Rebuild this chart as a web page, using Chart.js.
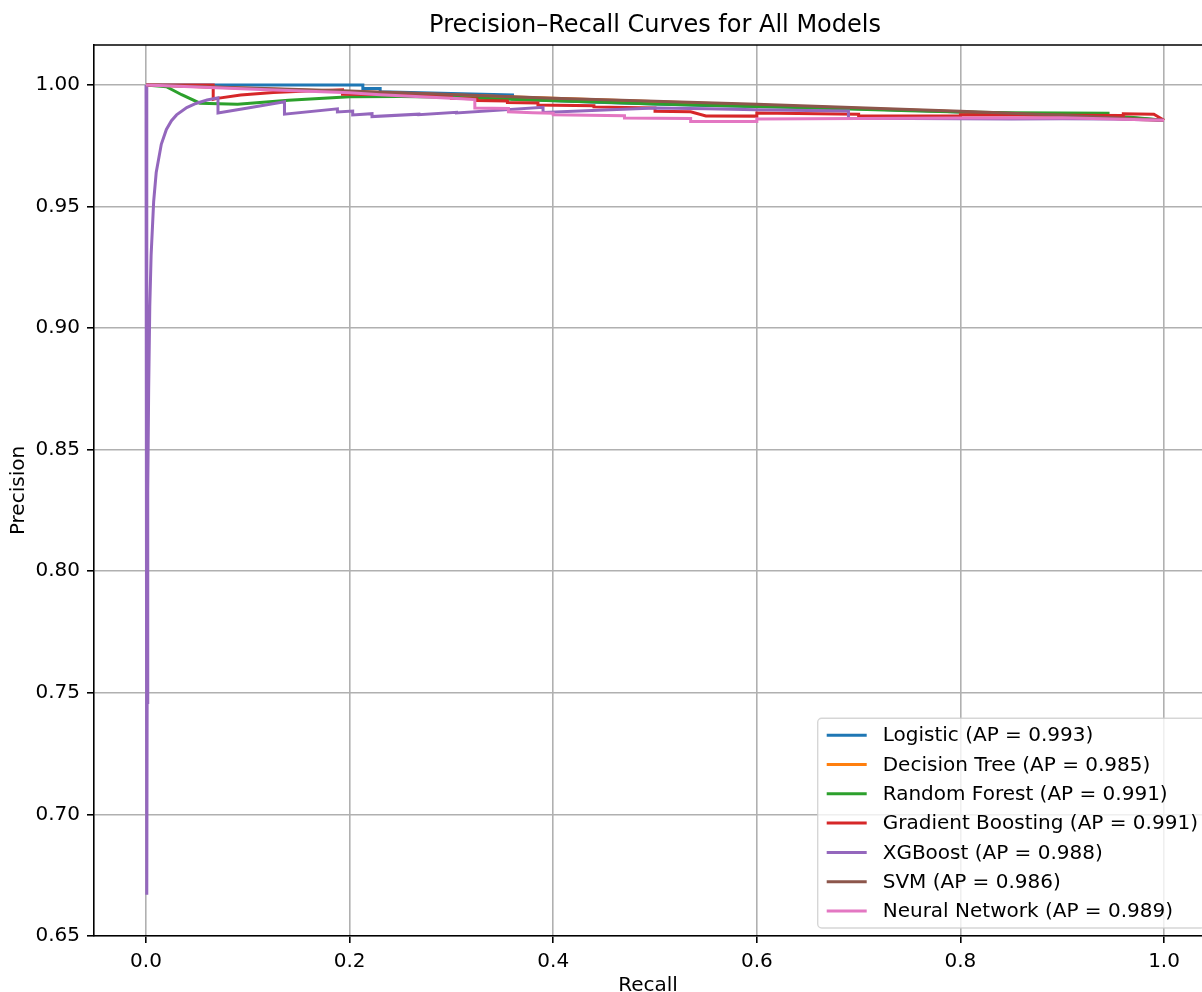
<!DOCTYPE html>
<html>
<head>
<meta charset="utf-8">
<script src="https://cdn.jsdelivr.net/npm/chart.js@4/dist/chart.umd.min.js"></script>
<style>
  html, body { margin: 0; padding: 0; background: #fff; overflow: hidden; }
  #wrap { width: 1202px; height: 992px; }
</style>
</head>
<body>
<div id="wrap"><canvas id="prChart" width="1202" height="992"></canvas></div>
<script>
let chartTitle = "Precision\u2013Recall Curves for All Models";
let xTicks = [0.0, 0.2, 0.4, 0.6, 0.8, 1.0];
let yTicks = [0.65, 0.70, 0.75, 0.80, 0.85, 0.90, 0.95, 1.00];

let modelNames = ["Logistic", "Decision Tree", "Random Forest", "Gradient Boosting", "XGBoost", "SVM", "Neural Network"];
let apScores = [0.993, 0.985, 0.991, 0.991, 0.988, 0.986, 0.989];
let lineColors = ["#1f77b4", "#ff7f0e", "#2ca02c", "#d62728", "#9467bd", "#8c564b", "#e377c2"];

// recall / precision
let recall_lr = [0, 0.213, 0.213, 0.230, 0.230, 0.30, 0.36, 0.36, 0.45, 0.55, 0.63, 0.70, 0.78, 0.80, 0.88, 0.95, 1.0];
let precision_lr = [1, 1, 0.9986, 0.9986, 0.9972, 0.9965, 0.9959, 0.9942, 0.9928, 0.9916, 0.9910, 0.9902, 0.9892, 0.9889, 0.9880, 0.9870, 0.9855];

let recall_dt = [0, 0.4, 0.8, 0.975, 1.0];
let precision_dt = [1, 0.9945, 0.9890, 0.9858, 0.9855];

let recall_rf = [0, 0.02, 0.035, 0.053, 0.09, 0.14, 0.20, 0.25, 0.30, 0.35, 0.40, 0.45, 0.50, 0.55, 0.60, 0.65, 0.70, 0.75, 0.80, 0.85, 0.90, 0.945, 0.945, 0.97, 1.0];
let precision_rf = [1, 0.9993, 0.9960, 0.9925, 0.9921, 0.9937, 0.9952, 0.9953, 0.9950, 0.9942, 0.9935, 0.9929, 0.9922, 0.9917, 0.9912, 0.9906, 0.9900, 0.9894, 0.9889, 0.9886, 0.9885, 0.9884, 0.9872, 0.9866, 0.9855];

let recall_gb = [0, 0.066, 0.066, 0.07, 0.093, 0.125, 0.158, 0.193, 0.193, 0.26, 0.30, 0.30, 0.325, 0.325, 0.355, 0.355, 0.385, 0.385, 0.44, 0.44, 0.50, 0.50, 0.535, 0.55, 0.60, 0.60, 0.70, 0.70, 0.80, 0.80, 0.96, 0.96, 0.99, 1.0];
let precision_gb = [1, 1, 0.9941, 0.9945, 0.9959, 0.9969, 0.9975, 0.9980, 0.9962, 0.9960, 0.9958, 0.9945, 0.9943, 0.9936, 0.9934, 0.9928, 0.9926, 0.9918, 0.9915, 0.9910, 0.9906, 0.9892, 0.9890, 0.9873, 0.9872, 0.9885, 0.9880, 0.9873, 0.9872, 0.9878, 0.9875, 0.9882, 0.9880, 0.9855];

let recall_xgb = [0, 0.00075, 0.0011, 0.0015, 0.0019, 0.0026, 0.0037, 0.005, 0.0075, 0.01, 0.015, 0.02, 0.025, 0.03, 0.04, 0.049, 0.06, 0.0707, 0.0707, 0.10, 0.136, 0.136, 0.188, 0.188, 0.203, 0.203, 0.222, 0.222, 0.268, 0.268, 0.305, 0.305, 0.39, 0.39, 0.45, 0.50, 0.55, 0.60, 0.65, 0.69, 0.69, 0.75, 0.80, 0.85, 0.90, 0.95, 1.0];
let precision_xgb = [1, 0.667, 0.746, 0.800, 0.833, 0.875, 0.909, 0.930, 0.952, 0.964, 0.9756, 0.9817, 0.9853, 0.9877, 0.9907, 0.9924, 0.9938, 0.9947, 0.9885, 0.9905, 0.9931, 0.9880, 0.9902, 0.9889, 0.9893, 0.9877, 0.9882, 0.9870, 0.9880, 0.9878, 0.9888, 0.9885, 0.9908, 0.9887, 0.9897, 0.9905, 0.9902, 0.9898, 0.9895, 0.9893, 0.9863, 0.9862, 0.9861, 0.9860, 0.9861, 0.9860, 0.9855];

let recall_svm = [0, 0.1, 0.2, 0.3, 0.4, 0.5, 0.6, 0.7, 0.8, 0.9, 1.0];
let precision_svm = [1, 0.9988, 0.9975, 0.9961, 0.9946, 0.9933, 0.9921, 0.9906, 0.9892, 0.9876, 0.9855];

let recall_nn = [0, 0.1, 0.2, 0.23, 0.31, 0.323, 0.323, 0.356, 0.356, 0.38, 0.40, 0.40, 0.47, 0.47, 0.535, 0.535, 0.60, 0.60, 0.70, 0.80, 0.90, 1.0];
let precision_nn = [1, 0.9984, 0.9968, 0.9960, 0.9943, 0.9940, 0.9905, 0.9903, 0.9890, 0.9886, 0.9884, 0.9878, 0.9874, 0.9864, 0.9862, 0.9850, 0.9850, 0.9860, 0.9862, 0.9864, 0.9865, 0.9855];

let allRecall = [recall_lr, recall_dt, recall_rf, recall_gb, recall_xgb, recall_svm, recall_nn];
let allPrecision = [precision_lr, precision_dt, precision_rf, precision_gb, precision_xgb, precision_svm, precision_nn];

let datasets = modelNames.map(function (name, i) {
    return {
        label: name + " (AP = " + apScores[i].toFixed(3) + ")",
        data: allRecall[i].map(function (r, j) { return { x: r, y: allPrecision[i][j] }; }),
        borderColor: lineColors[i],
        backgroundColor: lineColors[i],
        borderWidth: 3,
        pointRadius: 0,
        tension: 0,
        fill: false,
        order: modelNames.length - i   // later models drawn on top, like matplotlib
    };
});

const FONT = "'DejaVu Sans', sans-serif";

// title, top spine and legend box in the matplotlib manner
const extras = {
    id: "extras",
    afterDraw(chart) {
        const ctx = chart.ctx;
        const area = chart.chartArea;
        const xs = chart.scales.x;

        ctx.save();
        ctx.strokeStyle = "#000";
        ctx.lineWidth = 1.6;
        ctx.beginPath();
        ctx.moveTo(area.left - 0.8, area.top);
        ctx.lineTo(area.right + 2, area.top);
        ctx.stroke();

        ctx.fillStyle = "#000";
        ctx.font = "24px " + FONT;
        ctx.textAlign = "center";
        ctx.textBaseline = "middle";
        ctx.fillText(chartTitle, xs.getPixelForValue(0.5), 26);

        // legend
        ctx.font = "20px " + FONT;
        let maxW = 0;
        chart.data.datasets.forEach(function (d) {
            maxW = Math.max(maxW, ctx.measureText(d.label).width);
        });
        const rowH = 29.3;
        const boxRight = xs.getPixelForValue(1.05) - 10;
        const boxW = 8 + 40 + 16 + maxW + 8;
        const boxH = 34 + rowH * (chart.data.datasets.length - 1);
        const boxBottom = area.bottom - 8;
        const boxLeft = boxRight - boxW;
        const boxTop = boxBottom - boxH;

        ctx.beginPath();
        ctx.roundRect(boxLeft, boxTop, boxW, boxH, 4);
        ctx.fillStyle = "rgba(255,255,255,0.8)";
        ctx.fill();
        ctx.strokeStyle = "rgba(204,204,204,0.8)";
        ctx.lineWidth = 1.4;
        ctx.stroke();

        ctx.textAlign = "left";
        chart.data.datasets.forEach(function (d, i) {
            const cy = boxTop + 17 + i * rowH;
            ctx.strokeStyle = d.borderColor;
            ctx.lineWidth = 3;
            ctx.beginPath();
            ctx.moveTo(boxLeft + 9, cy);
            ctx.lineTo(boxLeft + 49, cy);
            ctx.stroke();
            ctx.fillStyle = "#000";
            ctx.fillText(d.label, boxLeft + 65, cy + 1);
        });
        ctx.restore();
    }
};

new Chart("prChart", {
    type: "line",
    data: { datasets: datasets },
    options: {
        responsive: false,
        animation: false,
        devicePixelRatio: 1,
        layout: { padding: { top: 45, left: 0, right: 0, bottom: 0 } },
        plugins: {
            legend: { display: false },
            title: { display: false },
            tooltip: { enabled: false }
        },
        scales: {
            x: {
                type: "linear",
                min: -0.0511,
                max: 1.0373,
                afterFit: function (s) { s.height = 56; },
                afterBuildTicks: function (s) { s.ticks = xTicks.map(function (v) { return { value: v }; }); },
                grid: { color: "#b0b0b0", lineWidth: 1.6, tickColor: "#000", tickLength: 7, tickWidth: 1.6 },
                border: { color: "#000", width: 1.6 },
                ticks: {
                    color: "#000", padding: 7, maxRotation: 0, autoSkip: false,
                    font: { family: FONT, size: 20 },
                    callback: function (v) { return Number(v).toFixed(1); }
                },
                title: { display: true, text: "Recall", color: "#000", font: { family: FONT, size: 20 }, padding: { top: 0, bottom: -6 } }
            },
            y: {
                type: "linear",
                min: 0.65,
                max: 1.01645,
                afterFit: function (s) { s.width = 94; },
                afterBuildTicks: function (s) { s.ticks = yTicks.map(function (v) { return { value: v }; }); },
                grid: { color: "#b0b0b0", lineWidth: 1.6, tickColor: "#000", tickLength: 7, tickWidth: 1.6 },
                border: { color: "#000", width: 1.6 },
                ticks: {
                    color: "#000", padding: 7, autoSkip: false,
                    font: { family: FONT, size: 20 },
                    callback: function (v) { return Number(v).toFixed(2); }
                },
                title: { display: true, text: "Precision", color: "#000", font: { family: FONT, size: 20 }, padding: { top: 7, bottom: 0 } }
            }
        }
    },
    plugins: [extras]
});
</script>
</body>
</html>
